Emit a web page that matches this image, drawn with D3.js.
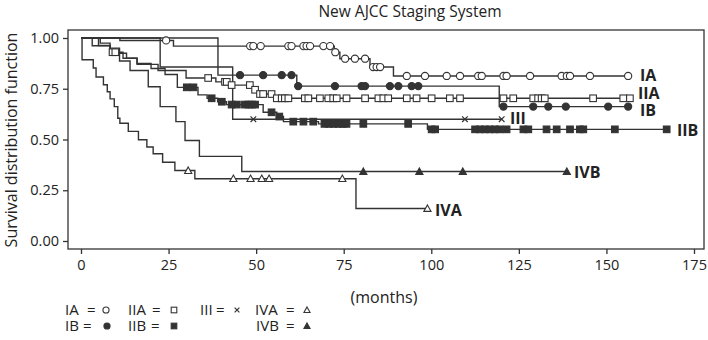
<!DOCTYPE html>
<html><head><meta charset="utf-8">
<script src="https://cdn.jsdelivr.net/npm/d3@7/dist/d3.min.js"></script>
<style>body{margin:0;background:#fff}svg{display:block}text{font-family:"Open Sans",sans-serif;fill:#222}</style>
</head><body><svg id="c" width="708" height="340"></svg>
<script>
const xTicks=[0,25,50,75,100,125,150,175];
const yTicks=[0,0.25,0.5,0.75,1];
// IA
const iaEventT=[11.1,26.4,72.3,73.9,82.5,89.2];
const iaEventS=[0.988,0.96,0.93,0.898,0.857,0.813];
const iaCensor=[24.3,48.3,49.2,51.3,59.2,60.1,63.5,64.4,65.4,69.2,71.1,72.6,75.4,78.2,81.1,83.4,84.4,85.4,93.0,98.2,104.4,108.2,113.4,114.4,120.6,121.5,128.2,137.2,138.7,139.6,145.3,156.2];
// IB
const ibEventT=[39.1,61.6,119.4];
const ibEventS=[0.817,0.763,0.662];
const ibCensor=[45.4,52.0,57.3,60.1,62.0,72.5,80.1,81.1,88.2,90.6,94.4,96.3,120.6,129.1,133.4,138.4,150.5,156.2];
// IIA
const iiaEventT=[5.0,8.3,12.0,16.0,22.0,30.0,38.5,42.5,49.0,50.5,55.2];
const iiaEventS=[0.963,0.93,0.90,0.87,0.84,0.803,0.784,0.768,0.745,0.724,0.703];
const iiaCensor=[9.0,9.8,36.3,41.1,41.6,43.0,48.2,49.7,51.1,52.0,54.4,55.9,57.3,58.2,59.2,63.9,64.9,68.2,70.6,72.0,73.0,75.8,81.1,84.9,86.3,87.7,93.0,95.8,100.1,105.3,108.2,120.6,123.4,129.1,130.5,131.5,132.4,146.2,154.8,156.7];
// IIB
const iibEventT=[5.5,8.3,11.0,13.0,16.0,20.0,24.0,27.5,33.4,36.0,39.0,41.5,52.0,55.9,57.8,67.8,98.9];
const iibEventS=[0.975,0.95,0.925,0.90,0.875,0.85,0.82,0.757,0.72,0.703,0.686,0.672,0.634,0.613,0.588,0.577,0.55];
const iibCensor=[30.2,32.1,37.3,40.2,43.0,44.5,46.8,47.8,48.8,49.7,54.4,56.6,60.6,63.5,66.3,69.5,70.8,72.1,73.4,74.7,75.8,80.6,93.4,100.1,101.1,112.5,113.9,115.3,116.7,118.1,119.5,121.5,126.3,127.7,132.9,135.8,139.6,142.4,143.4,152.4,167.2];
// III
const iiiEventT=[22.6,43.3];
const iiiEventS=[0.857,0.60];
const iiiCensor=[49.2,109.6,120.1];
// IVA
const ivaEventT=[0.3,3.5,4.3,6.4,7.5,8.3,9.5,10.5,11.1,13.5,16.4,18.8,20.6,23.3,26.8,32.5,78.5];
const ivaEventS=[0.893,0.852,0.808,0.77,0.735,0.70,0.662,0.605,0.58,0.54,0.499,0.463,0.43,0.388,0.347,0.307,0.16];
const ivaCensor=[30.6,43.5,48.4,51.6,53.7,74.6,98.9];
// IVB
const ivbEventT=[3.2,8.3,11.0,14.0,19.2,22.6,27.1,29.7,33.8,45.9];
const ivbEventS=[0.962,0.925,0.887,0.84,0.76,0.662,0.588,0.495,0.417,0.342];
const ivbCensor=[80.6,96.6,109.0,138.7];

const groups=[
 {name:"IA",t:iaEventT,s:iaEventS,c:iaCensor,m:"circle",fill:false},
 {name:"IB",t:ibEventT,s:ibEventS,c:ibCensor,m:"circle",fill:true},
 {name:"IIA",t:iiaEventT,s:iiaEventS,c:iiaCensor,m:"square",fill:false},
 {name:"IIB",t:iibEventT,s:iibEventS,c:iibCensor,m:"square",fill:true},
 {name:"III",t:iiiEventT,s:iiiEventS,c:iiiCensor,m:"cross",fill:false},
 {name:"IVA",t:ivaEventT,s:ivaEventS,c:ivaCensor,m:"triangle",fill:false},
 {name:"IVB",t:ivbEventT,s:ivbEventS,c:ivbCensor,m:"triangle",fill:true}
];
const labelPos={IA:[640,81],IIA:[638,99],IB:[640,116],III:[510,124],IIB:[677,136],IVB:[574,178],IVA:[435,216]};

const svg=d3.select("#c");
const L=68,R=704,T=30,B=249;
const x=d3.scaleLinear().domain([0,175]).range([81,694]);
const y=d3.scaleLinear().domain([0,1]).range([241,38]);
const ink="#333";

svg.append("text").attr("x",(L+R)/2+24).attr("y",17).attr("text-anchor","middle").style("font-size","15.5px").text("New AJCC Staging System");
svg.append("rect").attr("x",L).attr("y",T).attr("width",R-L).attr("height",B-T).attr("fill","none").attr("stroke",ink).attr("stroke-width",1.3);

const ya=svg.append("g").attr("transform",`translate(${L},0)`).call(d3.axisLeft(y).tickValues(yTicks).tickFormat(d3.format(".2f")).tickSize(5).tickPadding(4));
const xa=svg.append("g").attr("transform",`translate(0,${B})`).call(d3.axisBottom(x).tickValues(xTicks).tickSize(5).tickPadding(6));
[ya,xa].forEach(a=>{a.select(".domain").remove();a.selectAll("line").attr("stroke",ink).attr("stroke-width",1.3);a.selectAll("text").style("font-size","14.5px").style("font-family","'Open Sans',sans-serif").attr("fill","#222");});

svg.append("text").attr("transform","translate(17,140) rotate(-90)").attr("text-anchor","middle").style("font-size","16px").text("Survival distribution function");
svg.append("text").attr("x",384).attr("y",303).attr("text-anchor","middle").style("font-size","16px").text("(months)");

function survAt(g,t){let s=1;for(let i=0;i<g.t.length;i++){if(g.t[i]<=t)s=g.s[i];}return s;}

function marker(sel,g,cx,cy,scale){
 scale=scale||1;
 const f=g.fill?ink:"#fff";
 if(g.m==="circle"){sel.append("circle").attr("cx",cx).attr("cy",cy).attr("r",3.6*scale).attr("fill",f).attr("stroke",ink).attr("stroke-width",1.1);}
 else if(g.m==="square"){const h=3.3*scale;sel.append("rect").attr("x",cx-h).attr("y",cy-h).attr("width",2*h).attr("height",2*h).attr("fill",f).attr("stroke",ink).attr("stroke-width",1.1);}
 else if(g.m==="cross"){const h=2.8*scale;sel.append("path").attr("d",`M${cx-h},${cy-h}L${cx+h},${cy+h}M${cx-h},${cy+h}L${cx+h},${cy-h}`).attr("stroke",ink).attr("stroke-width",1.2).attr("fill","none");}
 else {const h=3.6*scale;sel.append("path").attr("d",`M${cx},${cy-h}L${cx+h},${cy+h*0.8}L${cx-h},${cy+h*0.8}Z`).attr("fill",f).attr("stroke",ink).attr("stroke-width",1.1);}
}

const plot=svg.append("g");
groups.forEach(g=>{
 const end=Math.max(d3.max(g.c),d3.max(g.t));
 let d=`M${x(0)},${y(1)}`;
 g.t.forEach((t,i)=>{d+=`H${x(t)}V${y(g.s[i])}`;});
 d+=`H${x(end)}`;
 plot.append("path").attr("d",d).attr("fill","none").attr("stroke",ink).attr("stroke-width",1.4);
});
groups.forEach(g=>{
 const mg=plot.append("g");
 g.c.forEach(t=>marker(mg,g,x(t),y(survAt(g,t))));
 const p=labelPos[g.name];
 svg.append("text").attr("x",p[0]).attr("y",p[1]).style("font-size","16px").style("font-weight","bold").text(g.name);
});

// legend: [name, name x, "=" x, marker x]
const legRows=[[["IA",65,87,106],["IIA",128,152,174],["III",200,216,237],["IVA",255,286,307]],
               [["IB",65,83,107],["IIB",128,151,174],["IVB",256,286,307]]];
const legY=[315,331];
legRows.forEach((row,ri)=>{
 row.forEach(([n,lx,ex,mx])=>{
  const g=groups.find(q=>q.name===n);
  svg.append("text").attr("x",lx).attr("y",legY[ri]).style("font-size","15px").text(n);
  svg.append("text").attr("x",ex).attr("y",legY[ri]).style("font-size","15px").text("=");
  marker(svg,g,mx,legY[ri]-5,0.85);
 });
});
</script></body></html>
